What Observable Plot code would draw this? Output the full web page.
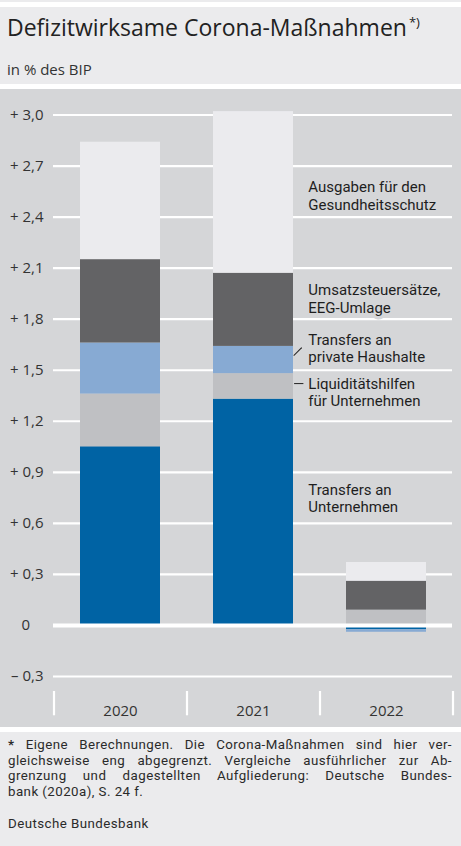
<!DOCTYPE html>
<html><head><meta charset="utf-8">
<script src="https://cdn.jsdelivr.net/npm/d3@7"></script>
<script src="https://cdn.jsdelivr.net/npm/@observablehq/plot@0.6"></script>
<style>
html,body{margin:0;padding:0;background:#fff;}
body{width:461px;height:846px;position:relative;overflow:hidden;font-family:"Open Sans",sans-serif;color:#262626;}
#topstrip{position:absolute;left:0;top:0;width:461px;height:2px;background:#ebebed;}
#head{position:absolute;left:0;top:7px;width:461px;height:77px;background:#ebebed;}
#title{position:absolute;left:7px;top:4.5px;font-size:23px;line-height:31px;white-space:nowrap;color:#222;}
#title .sup{position:relative;top:-9px;font-size:13px;margin-left:2px;}
#sub{position:absolute;left:7px;top:52px;font-size:15px;line-height:20px;color:#333;}
#chart{position:absolute;left:0;top:89px;width:461px;height:638px;background:#d5d6d8;}
#chart svg{display:block;}
#foot{position:absolute;left:0;top:732px;width:461px;height:114px;background:#ebebed;font-family:Roboto,"Open Sans",sans-serif;font-size:13.3px;letter-spacing:0.45px;color:#2a2a2a;}
#note{position:absolute;left:8px;top:5px;width:444px;}
#note div{height:15.7px;line-height:15.7px;white-space:nowrap;text-align:justify;text-align-last:justify;}
#note div.last{text-align:left;text-align-last:left;}
#src{position:absolute;left:8px;top:84px;line-height:15.7px;}
</style></head>
<body>
<div id="topstrip"></div>
<div id="head">
  <div id="title">Defizitwirksame Corona-Maßnahmen<span class="sup">*)</span></div>
  <div id="sub">in % des BIP</div>
</div>
<div id="chart"></div>
<div id="foot">
  <div id="note">
    <div><b>*</b> Eigene Berechnungen. Die Corona-Maßnahmen sind hier ver-</div>
    <div>gleichsweise eng abgegrenzt. Vergleiche ausführlicher zur Ab-</div>
    <div>grenzung und dagestellten Aufgliederung: Deutsche Bundes-</div>
    <div class="last">bank (2020a), S. 24 f.</div>
  </div>
  <div id="src">Deutsche Bundesbank</div>
</div>
<script>
const years = ["2020", "2021", "2022"];
const series = [
  "Transfers an Unternehmen",
  "Liquiditätshilfen für Unternehmen",
  "Transfers an private Haushalte",
  "Umsatzsteuersätze, EEG-Umlage",
  "Ausgaben für den Gesundheitsschutz"
];
const labels = [
  "Transfers an\nUnternehmen",
  "Liquiditätshilfen\nfür Unternehmen",
  "Transfers an\nprivate Haushalte",
  "Umsatzsteuersätze,\nEEG-Umlage",
  "Ausgaben für den\nGesundheitsschutz"
];
const transfersUnternehmen = [1.05, 1.33, -0.025];
const liquiditaetshilfen   = [0.31, 0.15, 0.09];
const transfersHaushalte   = [0.30, 0.16, -0.015];
const umsatzsteuerEEG      = [0.49, 0.43, 0.17];
const gesundheitsschutz    = [0.69, 0.95, 0.11];
const yTicks = [-0.3, 0, 0.3, 0.6, 0.9, 1.2, 1.5, 1.8, 2.1, 2.4, 2.7, 3.0];
const colors = ["#0063a4", "#bfc0c3", "#87aad3", "#636365", "#ebebee"];

const values = [transfersUnternehmen, liquiditaetshilfen, transfersHaushalte, umsatzsteuerEEG, gesundheitsschutz];
const rows = series.flatMap((s, i) => years.map((y, j) => ({year: y, series: s, value: values[i][j]})));
const rows2021 = rows.filter(d => d.year === "2021");

const BG = "#d5d6d8";
const fmt = d => d === 0 ? "0" : (d > 0 ? "+ " : "– ") + Math.abs(d).toFixed(1).replace(".", ",");

// keep only one series after stacking
function only(opts, name) {
  const t = opts.transform;
  return {...opts, transform(data, facets) {
    const r = t(data, facets);
    return {data: r.data, facets: r.facets.map(f => Array.from(f).filter(i => r.data[i].series === name))};
  }};
}

const labelDy = [-14.3, 5.3, -12, -11.2, 2.7];
const textMarks = series.map((s, i) => Plot.text(rows2021, only(Plot.stackY({
  x: "year", y: "value", z: "series",
  text: () => labels[i],
  dx: 54.8, dy: labelDy[i],
  textAnchor: "start", lineHeight: 1.175, fontSize: 15,
  fontFamily: "Roboto, 'Open Sans', sans-serif",
  fill: "#1e1e1e", letterSpacing: "0.6px",
  stroke: BG, strokeWidth: 7, strokeLinejoin: "round"
}), s)));

const lineShape = {draw(context, l) { context.moveTo(0, 0); context.lineTo(0, -l); }};

const chart = Plot.plot({
  width: 461,
  height: 638,
  marginLeft: 53,
  marginRight: 9,
  marginTop: 25.5,
  marginBottom: 51,
  style: {background: "transparent", fontFamily: "'Open Sans', sans-serif", fontSize: "15px", color: "#333"},
  x: {domain: years, paddingInner: 0.4, paddingOuter: 0.2},
  y: {domain: [-0.3, 3.0]},
  color: {domain: series, range: colors},
  marks: [
    Plot.ruleY(yTicks.filter(d => d !== 0), {stroke: "#fff", strokeWidth: 2.2}),
    Plot.barY(rows, {x: "year", y: "value", fill: "series"}),
    Plot.ruleY([0], {stroke: "#fff", strokeWidth: 4}),
    ...textMarks,
    Plot.vector(rows2021, only(Plot.stackY({x: "year", y: "value", z: "series", dx: 40.5, dy: -4.7, length: 10.5, rotate: 45, anchor: "start", shape: lineShape, stroke: "#222", strokeWidth: 1}), series[2])),
    Plot.vector(rows2021, only(Plot.stackY({x: "year", y: "value", z: "series", dx: 41, dy: -2.8, length: 8.5, rotate: 90, anchor: "start", shape: lineShape, stroke: "#222", strokeWidth: 1}), series[1])),
    Plot.ruleX(years, {x: d => d, dx: -66.5, stroke: "#fff", strokeWidth: 2.2, insetTop: 576.5, insetBottom: -39.3}),
    Plot.ruleX(years.slice(-1), {x: d => d, dx: 66.5, stroke: "#fff", strokeWidth: 2.2, insetTop: 576.5, insetBottom: -39.3}),
    Plot.axisY(yTicks.filter(d => d !== 0), {tickSize: 0, tickPadding: 10, tickFormat: fmt, fontSize: 15, fill: "#333", label: null}),
    Plot.axisY([0], {tickSize: 0, tickPadding: 10, dx: -13.4, tickFormat: fmt, fontSize: 15, fill: "#333", label: null}),
    Plot.axisX({tickSize: 0, tickPadding: 29, fontSize: 15, fill: "#333", label: null})
  ]
});
document.getElementById("chart").appendChild(chart);
</script>
</body></html>
